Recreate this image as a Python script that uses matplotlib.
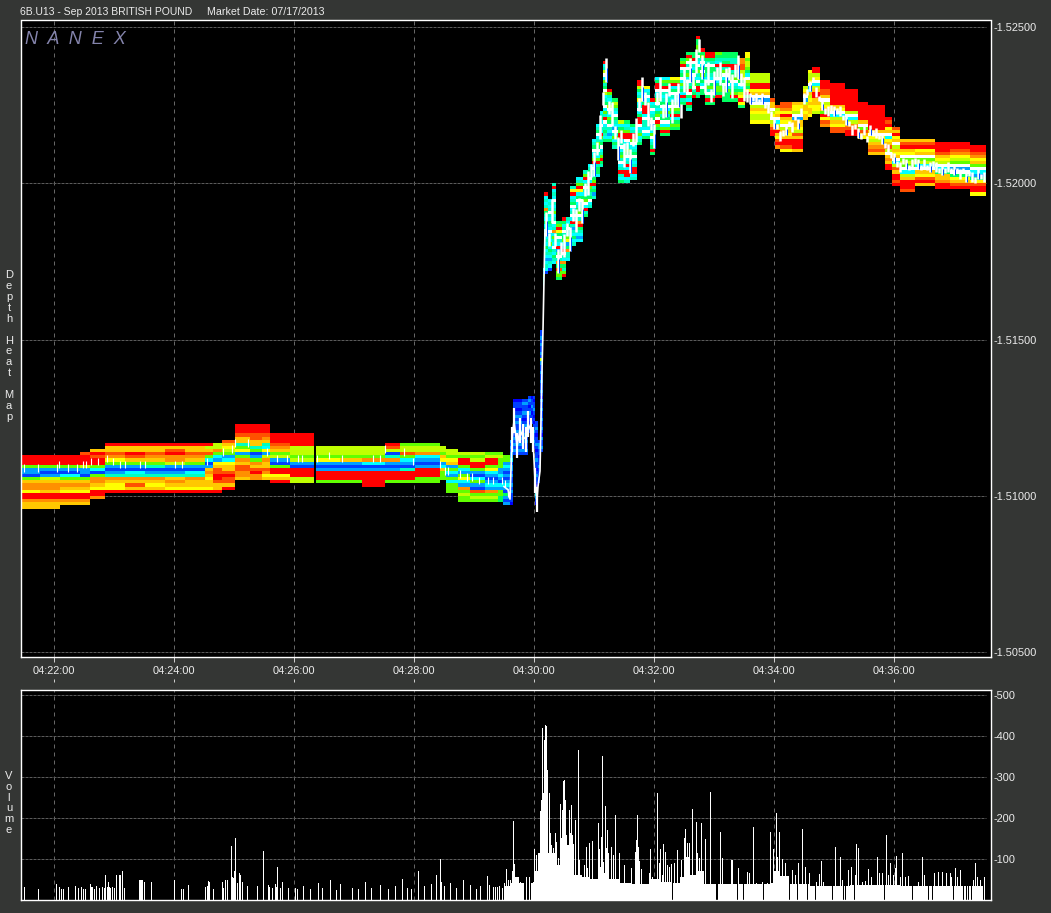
import numpy as np
import matplotlib
matplotlib.use('Agg')
import matplotlib.pyplot as plt

plt.rcParams['font.family'] = ['Liberation Sans', 'DejaVu Sans']

W, H = 1051, 913
BG = '#343634'
TICK = 0.0001

# time axis is seconds past 04:21:06
time_ticks = [54, 174, 294, 414, 534, 654, 774, 894]
time_labels = ['04:22:00', '04:24:00', '04:26:00', '04:28:00', '04:30:00', '04:32:00', '04:34:00', '04:36:00']
price_ticks = [1.525, 1.52, 1.515, 1.51, 1.505]
price_labels = ['-1.52500', '-1.52000', '-1.51500', '-1.51000', '-1.50500']
vol_ticks = [100, 200, 300, 400, 500]
vol_labels = ['-100', '-200', '-300', '-400', '-500']

heat_colors = {'R': '#ff0000', 'N': '#ff5000', 'O': '#ff9000', 'A': '#ffc800', 'Y': '#ffff00',
               'L': '#c0ff00', 'G': '#60ff00', 'E': '#00ff60', 'T': '#00ffc0', 'C': '#00ffff',
               'Z': '#00a0ff', 'B': '#0040ff', 'D': '#0000ff', 'W': '#ffffff'}

# depth columns: start second, top price, one letter per price tick going down
seg_sec = [21, 40, 60, 80, 90, 105, 125, 145, 165, 185, 205, 213, 222, 235, 250, 262, 270, 290, 314, 316,
           340, 362, 385, 400, 415, 440, 446, 458, 470, 485, 498, 503, 510, 513, 522, 528, 531, 533, 535, 538,
           540, 543, 544, 548, 552, 556, 562, 566, 570, 576, 583, 588, 592, 596, 600, 603, 607, 612, 618, 624,
           630, 637, 642, 650, 655, 660, 670, 680, 686, 692, 696, 700, 705, 715, 722, 730, 738, 745, 750, 770,
           775, 780, 792, 803, 808, 812, 820, 830, 845, 858, 868, 885, 892, 900, 915, 935, 950, 970]
seg_top = [1.5113, 1.5113, 1.5113, 1.5114, 1.5115, 1.5117, 1.5117, 1.5117, 1.5117, 1.5117, 1.5117, 1.5117, 1.5118, 1.5123, 1.5123, 1.5123, 1.5120, 1.5120, 1.5116, 1.5116,
           1.5116, 1.5116, 1.5117, 1.5117, 1.5117, 1.5116, 1.5115, 1.5114, 1.5114, 1.5114, 1.5114, 1.5113, 1.5118, 1.5131, 1.5131, 1.5132, 1.5132, 1.5132, 1.5124, 1.5118,
           1.5153, 1.5173, 1.5197, 1.5195, 1.5200, 1.5188, 1.5189, 1.5189, 1.5199, 1.5202, 1.5204, 1.5206, 1.5214, 1.5219, 1.5223, 1.5239, 1.5230, 1.5227, 1.5220, 1.5220,
           1.5219, 1.5233, 1.5231, 1.5227, 1.5234, 1.5234, 1.5234, 1.5240, 1.5242, 1.5242, 1.5247, 1.5243, 1.5242, 1.5242, 1.5242, 1.5242, 1.5240, 1.5242, 1.5235, 1.5227,
           1.5225, 1.5226, 1.5226, 1.5231, 1.5236, 1.5237, 1.5233, 1.5232, 1.5230, 1.5226, 1.5225, 1.5221, 1.5218, 1.5214, 1.5214, 1.5213, 1.5213, 1.5212]
seg_rows = ['RRRGZZBGAOOYRROAA', 'RRRGZBZLAOOARROAA', 'RRRGZBCGAOAYRROA', 'NRRRLZZBGAOAYRROA', 'ARNRRGCBGOOAYRRO',
            'RAANOYGZBZTOAYYR', 'RAARNAGZBCTOANAR', 'RAANOAGTBZTOAYAR', 'RANROOLZBZTAOAYR', 'RAANOAGZBCTOAAYR',
            'RLANGCBZAOAYAAYR', 'LLOGCZYANNRRNAAR', 'NAYLGZCYAANRNNAR', 'RRRNAATGYZGOANNOOA', 'RRRNNAATGBZGOANROO',
            'RRRNOATCYZLOAANOYA', 'RRRNOAGLZBGRRYAR', 'RRRRLLLGLZBRRRLL', '', 'LLLGYZBZRRRG',
            'LLLGAZBZRRRG', 'LLLGOCBZRRRRR', 'RNLBTOZBZRRRG', 'GLLNGCZBTRRRG', 'GLLOCZBZRRRGG',
            'LLGAYZCAGGG', 'LLGYAZGCZGCGGG', 'LGRRGCZGYCZOGLGG', 'LGLRRGZBCGZBNGLG', 'GLRRGYCZBZCZOGLG',
            'GLGGGZZCZBCZGGEE', 'GGZCZBZBZCZBEZBZ', 'ZBZBZZCBZZBZBBZBZBBBD', 'DBBDBZBZBBZBZBZBZB', 'BZBBZBDBZBBZBZBBZB',
            'BZBDBZBBDBZB', 'DBBZBDBDB', 'BDBBZBDBDBBZBBZBD', 'BBZBDBBZBDBBZBBDBZBBDBZCZBD', 'BZZBBDBBZBBDZB',
            'BBZBZBBZBLZBBZBBZBBZBDZBBZBBZBBZBDZBBZB', 'CZGCTCZB', 'RCTCTOETCECTCWCTCECTCZCTCB', 'CTCTWTCETCWCTCGCETCZTCB', 'TRCTCWTCTGCTWCTOCGTCWTCETC',
            'EGRYEWTCRZEWTOENGGE', 'RECTWTEGCZRWTCOETGR', 'TCEWTCGYZEOTTC', 'TYRCTEWCTWCRTZTCECT', 'CTGRYCEWCTEGWTORETCZC',
            'TGRCEWTCEGWCRTE', 'CTETWCRGETEWCT', 'CTEWCTGRCWTCEGRTEZT', 'CTEWCTGEWTCGRTEEC', 'CTECWTCRGTEWCTGRET',
            'RCTLWCGTEWLCTEWCGTRWCTETCE', 'RGTCELWTCGEWTCZCE', 'ELGTCWETCZWTGCET', 'LCEGRRCTWCEGTWCTRTCE', 'ECTGRRWCTGEWCTRCRRCT',
            'ECTRRGWCTEWTCTRRCT', 'RRLECTYCTWCERRWCTGCTE', 'YCTWCERRRCWTTCWCE', 'RCTWCTEWZTCGWCTERE', 'CERRWCTGWTCEGWRGE',
            'CGERWTCTEWCGTEWCGRE', 'YGRCEWTCEWGERCEGE', 'EGRWTEWCGTECRTE', 'ERGWTWEGCWTERWECRET', 'EERWTCEWCEGWTER',
            'REEGGEWTCWEGTCWERRTE', 'REGTWCEWGTECWEE', 'RRETWEETCWEGTWERE', 'GETCRTEEWCEGGER', 'EETERTGWCEWTGEEE',
            'EETTRRTEGWCTEGRE', 'OONNLLYEWCELYRYE', 'YYGLLGECWLGEYRE', 'LLLRRYAWZWLAYLLY', 'NAAWLYWLANRR',
            'NLYAWCLARAYNRO', 'NNOYRAYWLAYARRNY', 'AYYLWZAAYLNARRRA', 'LYAWZLAAYAA', 'YLLYWZCALYAYAAY',
            'RRLYWCLARRAAYYL', 'RRRNNAWLYAGRYNO', 'RRRRRRRAYWCLAYNN', 'RRRRRRRLWCLONRR', 'RRRRRRAWGNAY',
            'RRRRRRRRAWYLAONA', 'RNRYAWCYANLWAOARR', 'NARYAWLAYAWCLNARRNR', 'ANRAYWGLGWCLARRRN', 'ANRYAWGLCWAYNRA',
            'RRRNAYLWCEAAORR', 'RRNOYLGWZWEYANR', 'RRNOYAGWCZEYNRRY']
seg_end = 986

# white prints before the jump
speck_sec = [24, 38, 57, 59, 68, 77, 83, 86, 91, 98, 107, 113, 120, 125, 140, 145, 175, 182, 207, 223, 232, 235, 248, 267, 277, 287, 298, 302, 317,
             329, 342, 373, 380, 385, 404, 413, 440, 445, 448, 460, 467, 472, 479, 488, 493, 502, 505, 508]
speck_price = [1.5109, 1.5109, 1.5109, 1.5110, 1.5109, 1.5109, 1.5110, 1.5110, 1.5111, 1.5111, 1.5112, 1.5111, 1.5110, 1.5110, 1.5110, 1.5110, 1.5110, 1.5110, 1.5111, 1.5114, 1.5115, 1.5117, 1.5117, 1.5114, 1.5112, 1.5112, 1.5112, 1.5112, 1.5112,
               1.5113, 1.5112, 1.5112, 1.5112, 1.5115, 1.5114, 1.5111, 1.5110, 1.5108, 1.5108, 1.5107, 1.5106, 1.5106, 1.5105, 1.5105, 1.5105, 1.5105, 1.5104, 1.5101]

# price path through the jump
jump_sec = [504, 508, 510, 512, 514, 517, 520, 523, 526, 528, 531, 533, 535, 537, 538, 540, 541, 542, 543, 544, 545]
jump_price = [1.5103, 1.5102, 1.5099, 1.5118, 1.5124, 1.5116, 1.5121, 1.5119, 1.5118, 1.5123, 1.5121, 1.5118, 1.5105, 1.5099, 1.5103, 1.5108, 1.5124, 1.5140, 1.5153, 1.5169, 1.5185]

# price path after the jump, one value every 3 seconds from second 546
white_price = [1.5187, 1.5182, 1.5191, 1.5182, 1.5175, 1.5179, 1.5180, 1.5185, 1.5182, 1.5190, 1.5188, 1.5193, 1.5191, 1.5198, 1.5200, 1.5204, 1.5206, 1.5211, 1.5218, 1.5227,
               1.5236, 1.5224, 1.5222, 1.5216, 1.5211, 1.5215, 1.5209, 1.5211, 1.5207, 1.5214, 1.5217, 1.5225, 1.5230, 1.5227, 1.5222, 1.5219, 1.5215, 1.5227, 1.5230, 1.5223,
               1.5225, 1.5230, 1.5223, 1.5227, 1.5228, 1.5223, 1.5233, 1.5231, 1.5236, 1.5232, 1.5239, 1.5244, 1.5237, 1.5231, 1.5235, 1.5228, 1.5232, 1.5235, 1.5235, 1.5230,
               1.5233, 1.5235, 1.5231, 1.5236, 1.5237, 1.5233, 1.5230, 1.5228, 1.5227, 1.5227, 1.5227, 1.5226, 1.5227, 1.5225, 1.5224, 1.5222, 1.5219, 1.5218, 1.5215, 1.5216,
               1.5217, 1.5219, 1.5218, 1.5221, 1.5219, 1.5223, 1.5227, 1.5229, 1.5231, 1.5233, 1.5229, 1.5227, 1.5225, 1.5223, 1.5223, 1.5224, 1.5223, 1.5223, 1.5223, 1.5221,
               1.5220, 1.5219, 1.5217, 1.5218, 1.5216, 1.5215, 1.5217, 1.5214, 1.5217, 1.5216, 1.5216, 1.5215, 1.5214, 1.5212, 1.5211, 1.5209, 1.5208, 1.5206, 1.5205, 1.5207,
               1.5206, 1.5205, 1.5206, 1.5207, 1.5206, 1.5205, 1.5206, 1.5205, 1.5205, 1.5206, 1.5205, 1.5204, 1.5204, 1.5204, 1.5205, 1.5204, 1.5204, 1.5204, 1.5203, 1.5204,
               1.5202, 1.5203, 1.5202, 1.5201, 1.5203, 1.5202, 1.5202]

# volume spikes
vol_sec = [24, 38, 56, 59, 61, 63, 68, 75, 78, 81, 83, 85, 90, 91, 92, 94, 96, 99, 102, 104, 105, 107, 108, 109, 110, 112, 114, 116, 119, 120, 122, 124,
           139, 140, 141, 142, 144, 151, 174, 181, 183, 188, 205, 207, 208, 209, 213, 222, 223, 225, 227, 231, 232, 233, 234, 235, 237, 239, 240, 242, 247, 257, 263,
           268, 269, 272, 275, 276, 277, 280, 282, 288, 295, 297, 303, 310, 318, 322, 330, 336, 340, 352, 358, 365, 371, 380, 388, 395, 402, 407, 411, 418, 424, 431, 436, 440, 441, 444, 450, 456, 463, 470, 476,
           480, 487, 489, 493, 495, 497, 499, 502, 504, 506, 508, 510, 512, 513, 514, 516, 518, 520, 521, 526, 529, 532, 533, 534, 536, 538, 539, 540, 541, 542, 543, 544, 545, 546, 547,
           549, 550, 551, 553, 554, 555, 556, 557, 558, 560, 561, 562, 563, 564, 565, 566, 567, 568, 569, 570, 571, 572, 573, 575, 578, 579, 584, 586, 587, 589, 592, 596, 598, 599, 601, 602,
           603, 605, 606, 607, 608, 611, 613, 615, 619, 624, 631, 635, 636, 637, 638, 641, 649, 650, 652, 657, 659, 660, 662, 663, 665, 667, 669, 671, 674, 677, 681, 684, 685, 687, 689, 692,
           696, 697, 699, 701, 705, 710, 720, 722, 731, 732, 738, 747, 749, 753, 756, 762, 767, 770, 773, 776, 777, 779, 782, 785, 792, 795, 798, 802, 805, 809, 816, 819, 821, 823, 835, 840, 842, 848, 851, 855, 856, 858,
           862, 865, 868, 871, 877, 879, 882, 886, 888, 890, 893, 895, 896, 900, 902, 905, 908, 918, 922, 924, 934, 938, 942, 946, 950, 951, 955, 957, 960, 973, 975, 977, 980, 984]
vol_val = [31, 28, 38, 32, 28, 28, 31, 34, 29, 31, 28, 28, 38, 31, 32, 28, 34, 29, 32, 29, 61, 31, 44, 32, 29, 32, 29, 61, 61, 61, 70, 29,
           49, 49, 49, 49, 44, 44, 49, 28, 28, 37, 31, 34, 46, 44, 28, 44, 29, 49, 49, 132, 56, 53, 71, 150, 41, 66, 61, 44, 34, 34, 120,
           37, 32, 29, 38, 31, 80, 29, 44, 29, 30, 26, 35, 28, 42, 30, 48, 25, 38, 30, 27, 45, 30, 36, 28, 33, 52, 30, 28, 70, 34, 40, 62, 100, 45, 35, 42, 30, 48, 36, 28,
           34, 58, 36, 31, 31, 31, 33, 29, 42, 75, 49, 49, 71, 193, 88, 57, 55, 45, 33, 57, 57, 41, 45, 124, 110, 98, 61, 218, 244, 419, 260, 390, 427, 424, 317,
           260, 163, 134, 126, 106, 163, 142, 65, 102, 234, 150, 220, 291, 293, 244, 158, 134, 103, 220, 163, 232, 158, 137, 195, 366, 98, 85, 130, 77, 140, 144, 41, 187, 124, 154, 351,
           93, 229, 126, 171, 114, 130, 110, 207, 114, 85, 77, 118, 146, 207, 130, 75, 65, 124, 57, 260, 89, 124, 61, 136, 118, 85, 81, 88, 89, 122, 98, 150, 172, 138, 140, 221,
           189, 114, 102, 187, 149, 263, 165, 102, 98, 98, 77, 69, 65, 177, 42, 45, 42, 165, 124, 211, 104, 167, 99, 91, 73, 61, 91, 172, 81, 67, 45, 63, 95, 45, 130, 106, 49, 72, 81, 61, 136, 126,
           45, 47, 76, 55, 106, 65, 67, 159, 61, 91, 61, 77, 107, 57, 114, 55, 59, 45, 106, 61, 65, 69, 69, 65, 65, 55, 77, 57, 73, 49, 89, 55, 49, 55]

# solid floor under the spikes: level holds from each start second
floor_sec = [504, 510, 514, 518, 524, 531, 534, 538, 541, 548, 556, 560, 570, 574, 582, 590, 598, 604, 608, 620, 632, 636, 640, 650, 660, 672, 680, 684, 690, 696, 704,
             725, 770, 774, 780, 790, 810, 850, 880, 900, 985]
floor_val = [33, 42, 55, 42, 0, 42, 70, 115, 235, 115, 85, 135, 120, 60, 55, 50, 80, 65, 50, 42, 38, 95, 40, 50, 45, 42, 55, 105, 60, 70, 38,
             38, 42, 70, 58, 38, 35, 36, 37, 33, 0]
vol_gaps = [525, 530, 672, 716, 717, 737, 743, 763, 789, 797, 807, 815, 832, 843, 845, 848, 854, 884, 912, 928, 932, 953, 963, 966, 968, 971, 983]


def add_axes(left, top, right, bottom):
    ax = fig.add_axes([left / W, 1 - bottom / H, (right - left) / W, (bottom - top) / H])
    ax.set_facecolor('black')
    for s in ax.spines.values():
        s.set_color('white')
        s.set_linewidth(1.0)
    ax.set_xlim(left, right)
    ax.set_xticks(time_ticks)
    ax.yaxis.tick_right()
    ax.tick_params(length=0, colors='#ececec', labelsize=7.9)
    ax.tick_params(axis='y', pad=1.5)
    ax.vlines(time_ticks, 0, 1, transform=ax.get_xaxis_transform(), colors='#666666', lw=0.72, linestyles=(0, (4, 4)), zorder=1)
    return ax


fig = plt.figure(figsize=(W / 100, H / 100), dpi=100, facecolor=BG)

# depth panel
ax = add_axes(20.5, 20.5, 991, 657)
ax.set_ylim(1.504856, 1.525192)
ax.hlines(price_ticks, 21, 986, colors='#5a5a5a', lw=0.72, linestyles=(0, (3, 1)), zorder=1)
ax.set_yticks(price_ticks)
ax.set_yticklabels(price_labels)
ax.set_xticklabels(time_labels)
ax.tick_params(axis='x', pad=6.5)
ax.vlines(time_ticks, -0.008, 0, transform=ax.get_xaxis_transform(), colors='#cccccc', lw=0.72, clip_on=False, zorder=1)
ax.vlines(time_ticks, -0.040, -0.034, transform=ax.get_xaxis_transform(), colors='#cccccc', lw=0.72, clip_on=False, zorder=1)

ends = seg_sec[1:] + [seg_end]
xs, ws, bs, cs = [], [], [], []
for start, end, top, rows in zip(seg_sec, ends, seg_top, seg_rows):
    for i, letter in enumerate(rows):
        xs.append(start)
        ws.append(end - start)
        bs.append(top - (i + 1) * TICK)
        cs.append(heat_colors[letter])
ax.bar(xs, TICK, width=ws, bottom=bs, align='edge', color=cs, linewidth=0, antialiased=False, zorder=2)

# prints on top of the depth
speck_price = np.array(speck_price)
ax.vlines(speck_sec, speck_price - 0.00012, speck_price + 0.00012, colors='white', lw=0.8, zorder=3)
jump_price = np.array(jump_price)
ax.plot(jump_sec, jump_price, color='white', lw=1.2, zorder=3)
ax.vlines(jump_sec[3:14], jump_price[3:14] - 0.0004, jump_price[3:14] + 0.0004, colors='white', lw=1.6, zorder=3)
white_price = np.array(white_price)
white_sec = 546 + 3 * np.arange(len(white_price))
span = np.where(white_sec < 750, 0.00038, 0.00016)
span = np.where(np.arange(len(white_sec)) % 2 == 0, span, span * 0.55)
ax.vlines(white_sec, white_price - span, white_price + span, colors='white', lw=1.8, zorder=3)
ax.vlines(white_sec[::4] + 1, white_price[::4] - span[::4], white_price[::4] + span[::4] * 0.2, colors='#0050ff', lw=0.72, zorder=4)

ax.text(25, 1.5246, 'N  A  N  E  X', color='#8484ac', fontsize=13, style='italic', va='center', ha='left', zorder=5)

# volume panel
ax2 = add_axes(20.5, 690, 991, 900)
ax2.set_ylim(0, 512)
ax2.hlines(vol_ticks, 21, 986, colors='#5a5a5a', lw=0.72, linestyles=(0, (3, 1)), zorder=1)
ax2.set_yticks(vol_ticks)
ax2.set_yticklabels(vol_labels)
ax2.set_xticklabels([])

seconds = np.arange(504, 986)
levels = np.array(floor_val)[np.searchsorted(floor_sec, seconds, side='right') - 1]
levels[np.isin(seconds, vol_gaps)] = 0
ax2.bar(seconds, levels, width=1, align='edge', color='white', linewidth=0, antialiased=False, zorder=2)
ax2.bar(vol_sec, vol_val, width=1, align='edge', color='white', linewidth=0, antialiased=False, zorder=2)

# header and side labels
fig.text(20 / W, 1 - 12 / H, '6B.U13 - Sep 2013 BRITISH POUND', color='#ececec', fontsize=7.5, va='center')
fig.text(207 / W, 1 - 12 / H, 'Market Date: 07/17/2013', color='#ececec', fontsize=7.7, va='center')
fig.text(9 / W, 1 - 346 / H, '\n'.join('Depth Heat Map'), color='#ececec', fontsize=8, ha='center', va='center', linespacing=1.12)
fig.text(9 / W, 1 - 803 / H, '\n'.join('Volume'), color='#ececec', fontsize=8, ha='center', va='center', linespacing=1.12)

fig.savefig('out.png', dpi=100, facecolor=BG)
